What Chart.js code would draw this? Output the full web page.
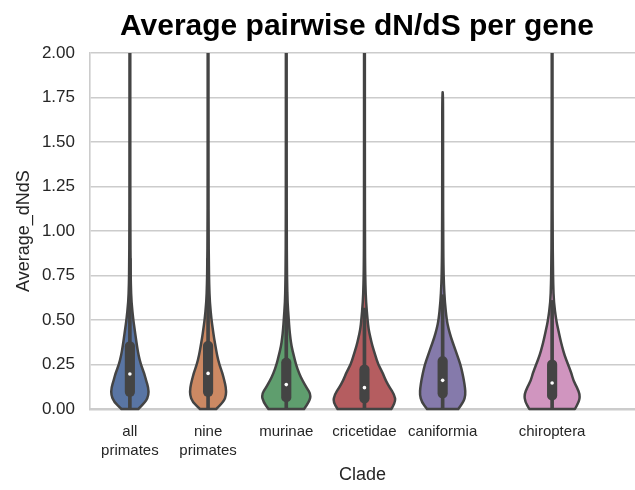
<!DOCTYPE html>
<html>
<head>
<meta charset="utf-8">
<script src="https://cdn.jsdelivr.net/npm/chart.js@4.4.1/dist/chart.umd.min.js"></script>
<style>
  html, body { margin: 0; padding: 0; background: #ffffff; }
  #wrap { width: 635px; height: 490px; }
</style>
</head>
<body>
<div id="wrap"><canvas id="chart" width="635" height="490"></canvas></div>
<script>
// ---- data ----
const clades = [["all", "primates"], ["nine", "primates"], "murinae", "cricetidae", "caniformia", "chiroptera"];

// quartiles, medians and whisker ends of Average_dNdS per clade
const q1 = [0.07, 0.07, 0.04, 0.034, 0.062, 0.05];
const medians = [0.197, 0.20, 0.137, 0.12, 0.161, 0.146];
const q3 = [0.378, 0.38, 0.286, 0.247, 0.294, 0.275];
const whiskerLow = [0, 0, 0, 0, 0, 0];
const whiskerHigh = [0.845, 0.845, 0.655, 0.567, 0.642, 0.61];
const maxima = [2.0, 2.0, 2.0, 2.0, 1.78, 2.0];

// kernel density (relative) evaluated at densityGrid values
const densityGrid = [0, 0.04, 0.08, 0.12, 0.16, 0.2, 0.25, 0.3, 0.35, 0.4, 0.45, 0.5, 0.6, 0.7, 0.8, 1.0, 1.25, 1.5, 1.75, 2.0];
const densAllPrimates  = [0.27, 0.51, 0.60, 0.59, 0.52, 0.46, 0.35, 0.28, 0.23, 0.19, 0.15, 0.11, 0.05, 0.03, 0.022, 0.015, 0.014, 0.013, 0.013, 0.013];
const densNinePrimates = [0.26, 0.50, 0.58, 0.57, 0.52, 0.46, 0.36, 0.29, 0.24, 0.19, 0.15, 0.11, 0.055, 0.035, 0.025, 0.016, 0.014, 0.013, 0.013, 0.013];
const densMurinae      = [0.57, 0.73, 0.79, 0.65, 0.52, 0.41, 0.31, 0.24, 0.17, 0.13, 0.10, 0.08, 0.04, 0.028, 0.02, 0.015, 0.014, 0.013, 0.013, 0.013];
const densCricetidae   = [0.86, 1.00, 0.955, 0.81, 0.68, 0.59, 0.44, 0.35, 0.26, 0.19, 0.13, 0.10, 0.05, 0.03, 0.02, 0.015, 0.014, 0.013, 0.013, 0.013];
const densCaniformia   = [0.50, 0.67, 0.73, 0.715, 0.68, 0.635, 0.57, 0.47, 0.37, 0.27, 0.19, 0.13, 0.07, 0.04, 0.025, 0.016, 0.014, 0.013, 0.012, 0.012];
const densChiroptera   = [0.73, 0.86, 0.89, 0.80, 0.68, 0.62, 0.51, 0.40, 0.32, 0.25, 0.19, 0.13, 0.055, 0.035, 0.025, 0.016, 0.014, 0.013, 0.013, 0.013];
const densities = [densAllPrimates, densNinePrimates, densMurinae, densCricetidae, densCaniformia, densChiroptera];

// ---- layout & style ----
const cladeSlots = [0, 1, 2, 3, 4, 5.4];      // x position of each violin on the clade axis
const HALF_WIDTH = 0.4;                          // half violin width (axis units) at density 1
const fills = ['#5975a4', '#cc8963', '#5f9e6e', '#b55d60', '#857aab', '#d095bf'];
const INK = '#444444';
const TEXT = '#262626';
const FAMILY = '"Liberation Sans", Arial, Helvetica, sans-serif';
const TITLE = 'Average pairwise dN/dS per gene';

// smooth curve through a run of pixel points (midpoint quadratic splines)
function traceSmooth(ctx, pts, start) {
  if (start) ctx.moveTo(pts[0][0], pts[0][1]); else ctx.lineTo(pts[0][0], pts[0][1]);
  for (let k = 1; k < pts.length - 1; k++) {
    const mx = (pts[k][0] + pts[k + 1][0]) / 2, my = (pts[k][1] + pts[k + 1][1]) / 2;
    ctx.quadraticCurveTo(pts[k][0], pts[k][1], mx, my);
  }
  const last = pts[pts.length - 1];
  ctx.lineTo(last[0], last[1]);
}

// violin bodies, drawn from the density profiles through the chart scales
const violinPlugin = {
  id: 'violins',
  beforeDatasetsDraw(chart) {
    const { ctx, chartArea: a, scales: { x, y } } = chart;
    ctx.save();
    ctx.beginPath();
    ctx.rect(a.left, a.top, a.right - a.left, a.bottom - a.top + 2);
    ctx.clip();
    densities.forEach((dens, i) => {
      const prof = [];
      for (let k = 0; k < densityGrid.length; k++) {
        if (densityGrid[k] > maxima[i]) break;
        prof.push([densityGrid[k], dens[k]]);
      }
      if (maxima[i] > prof[prof.length - 1][0]) prof.push([maxima[i], 0]);
      const c = cladeSlots[i];
      const right = prof.map(([v, d]) => [x.getPixelForValue(c + d * HALF_WIDTH), y.getPixelForValue(v)]);
      const left = prof.slice().reverse().map(([v, d]) => [x.getPixelForValue(c - d * HALF_WIDTH), y.getPixelForValue(v)]);
      ctx.beginPath();
      traceSmooth(ctx, right, true);
      traceSmooth(ctx, left, false);
      ctx.closePath();
      ctx.fillStyle = fills[i];
      ctx.fill();
      ctx.lineWidth = 2.5;
      ctx.lineJoin = 'round';
      ctx.strokeStyle = INK;
      ctx.stroke();
    });
    ctx.restore();
  }
};

// figure title, centred over the axes
const titlePlugin = {
  id: 'figureTitle',
  afterDraw(chart) {
    const ctx = chart.ctx;
    ctx.save();
    ctx.font = 'bold 30px ' + FAMILY;
    ctx.fillStyle = '#000000';
    ctx.textAlign = 'center';
    ctx.textBaseline = 'alphabetic';
    ctx.fillText(TITLE, 357, 35);
    ctx.restore();
  }
};

new Chart(document.getElementById('chart'), {
  type: 'bar',
  data: {
    datasets: [
      {
        type: 'scatter',
        label: 'median',
        data: cladeSlots.map((x, i) => ({ x, y: medians[i] })),
        pointRadius: 1.8,
        pointBackgroundColor: '#ffffff',
        pointBorderWidth: 0,
        borderWidth: 0,
        order: 0
      },
      {
        type: 'bar',
        label: 'interquartile range',
        data: cladeSlots.map((x, i) => ({ x, y: [q1[i], q3[i]] })),
        backgroundColor: INK,
        barThickness: 9.5,
        borderRadius: 4.75,
        borderSkipped: false,
        grouped: false,
        order: 1
      },
      {
        type: 'bar',
        label: 'whiskers',
        data: cladeSlots.map((x, i) => ({ x, y: [whiskerLow[i], whiskerHigh[i]] })),
        backgroundColor: INK,
        barThickness: 3,
        grouped: false,
        order: 2
      }
    ]
  },
  options: {
    responsive: false,
    devicePixelRatio: 1,
    animation: false,
    layout: { autoPadding: false, padding: { top: 53, left: 0, right: 0, bottom: 0 } },
    plugins: { legend: { display: false }, tooltip: { enabled: false }, title: { display: false } },
    scales: {
      x: {
        type: 'linear',
        offset: false,
        min: -0.51,
        max: 6.46,
        afterFit(scale) {
          scale.height = 81;
          // axis runs to the right edge of the canvas
          scale.paddingLeft = 0;
          scale.paddingRight = 0;
        },
        afterBuildTicks(scale) { scale.ticks = cladeSlots.map(v => ({ value: v })); },
        ticks: {
          autoSkip: false,
          maxRotation: 0,
          padding: 14,
          color: TEXT,
          font: { family: FAMILY, size: 15, lineHeight: 1.22 },
          callback: (value, index) => clades[index]
        },
        grid: { display: false, drawTicks: false, offset: false },
        border: { display: true, color: '#cccccc', width: 2.5 },
        title: { display: true, text: 'Clade', color: TEXT, font: { family: FAMILY, size: 18 }, padding: { top: 0, bottom: 4 } }
      },
      y: {
        type: 'linear',
        min: 0,
        max: 2,
        afterFit(scale) { scale.width = 90; },
        ticks: {
          stepSize: 0.25,
          padding: 15,
          color: TEXT,
          font: { family: FAMILY, size: 17 },
          callback: v => v.toFixed(2)
        },
        grid: { color: '#cccccc', lineWidth: 1.6, drawTicks: false },
        border: { display: true, color: '#cccccc', width: 1.6 },
        title: { display: true, text: 'Average_dNdS', color: TEXT, font: { family: FAMILY, size: 18 }, padding: { top: 13, bottom: 0 } }
      }
    }
  },
  plugins: [violinPlugin, titlePlugin]
});
</script>
</body>
</html>
